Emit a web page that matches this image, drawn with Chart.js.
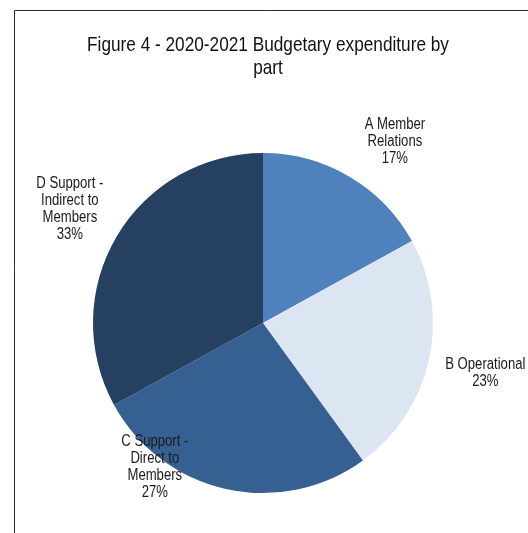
<!DOCTYPE html>
<html lang="en">
<head>
  <meta charset="UTF-8">
  <title>Figure 4 - 2020-2021 Budgetary expenditure by part</title>
  <script src="https://cdn.jsdelivr.net/npm/chart.js"></script>
  <style>
    html, body {
      margin: 0;
      padding: 0;
      background: #fff;
    }
    #chart {
      display: block;
    }
  </style>
</head>
<body>
  <canvas id="chart" width="528" height="533"></canvas>

  <script>
    const titleLines = ['Figure 4 - 2020-2021 Budgetary expenditure by', 'part'];
    const categories = ['A Member Relations', 'B Operational', 'C Support - Direct to Members', 'D Support - Indirect to Members'];
    const shares = [17, 23, 27, 33];
    const colours = ['#4F81BD', '#DCE6F2', '#376092', '#254061'];

    // where Excel put each label: distance (x radius) and turn from the slice middle (degrees)
    const labelDist = [1.32, 1.34, 1.06, 1.32];
    const labelTurn = [5.4, 0, 24.3, 0];

    // no Arial Narrow here, so squeeze Liberation Sans sideways
    const FONT = '"Liberation Sans", Arial, sans-serif';
    const SQUEEZE = 0.82;

    function squeezedText(ctx, text, x, y) {
      ctx.save();
      ctx.translate(x, y);
      ctx.scale(SQUEEZE, 1);
      ctx.fillText(text, 0, 0);
      ctx.restore();
    }

    function wrap(ctx, text, maxWidth) {
      const words = text.split(' ');
      const lines = [];
      let line = '';
      words.forEach(w => {
        const test = line ? line + ' ' + w : w;
        if (line && ctx.measureText(test).width * SQUEEZE > maxWidth) {
          lines.push(line);
          line = w;
        } else {
          line = test;
        }
      });
      if (line) lines.push(line);
      return lines;
    }

    const frame = {
      id: 'frame',
      beforeDraw(chart) {
        const ctx = chart.ctx;
        ctx.save();
        ctx.strokeStyle = '#2b2b2b';
        ctx.lineWidth = 1;
        ctx.beginPath();
        ctx.moveTo(14.5, chart.height);
        ctx.lineTo(14.5, 10.5);
        ctx.lineTo(chart.width, 10.5);
        ctx.stroke();

        // title, centred in the chart frame (which runs a little past the right edge)
        const cx = (14 + 522) / 2;
        ctx.font = 'normal 21px ' + FONT;
        ctx.fillStyle = '#111';
        ctx.textAlign = 'center';
        ctx.textBaseline = 'middle';
        titleLines.forEach((t, k) => squeezedText(ctx, t, cx, 45 + k * 23));
        ctx.restore();
      }
    };

    const sliceLabels = {
      id: 'sliceLabels',
      afterDatasetsDraw(chart) {
        const ctx = chart.ctx;
        const meta = chart.getDatasetMeta(0);
        const total = shares.reduce((a, b) => a + b, 0);
        ctx.save();
        ctx.font = 'normal 16px ' + FONT;
        ctx.fillStyle = '#1a1a1a';
        ctx.textAlign = 'center';
        ctx.textBaseline = 'middle';
        meta.data.forEach((arc, i) => {
          const p = arc.getProps(['x', 'y', 'startAngle', 'endAngle', 'outerRadius'], true);
          const a = (p.startAngle + p.endAngle) / 2 + labelTurn[i] * Math.PI / 180;
          const cx = p.x + Math.cos(a) * p.outerRadius * labelDist[i];
          const cy = p.y + Math.sin(a) * p.outerRadius * labelDist[i];
          const lines = wrap(ctx, categories[i], 88);
          lines.push(Math.round(shares[i] / total * 100) + '%');
          const lh = 17;
          const top = cy - (lines.length - 1) * lh / 2;
          lines.forEach((l, k) => squeezedText(ctx, l, cx, top + k * lh));
        });
        ctx.restore();
      }
    };

    new Chart(document.getElementById('chart'), {
      type: 'pie',
      data: {
        labels: categories,
        datasets: [{
          data: shares,
          backgroundColor: colours,
          borderWidth: 0
        }]
      },
      options: {
        responsive: false,
        animation: false,
        layout: {
          padding: { top: 153, left: 93, right: 95, bottom: 40 }
        },
        plugins: {
          legend: { display: false },
          tooltip: { enabled: false },
          title: { display: false }
        }
      },
      plugins: [frame, sliceLabels]
    });
  </script>
</body>
</html>
